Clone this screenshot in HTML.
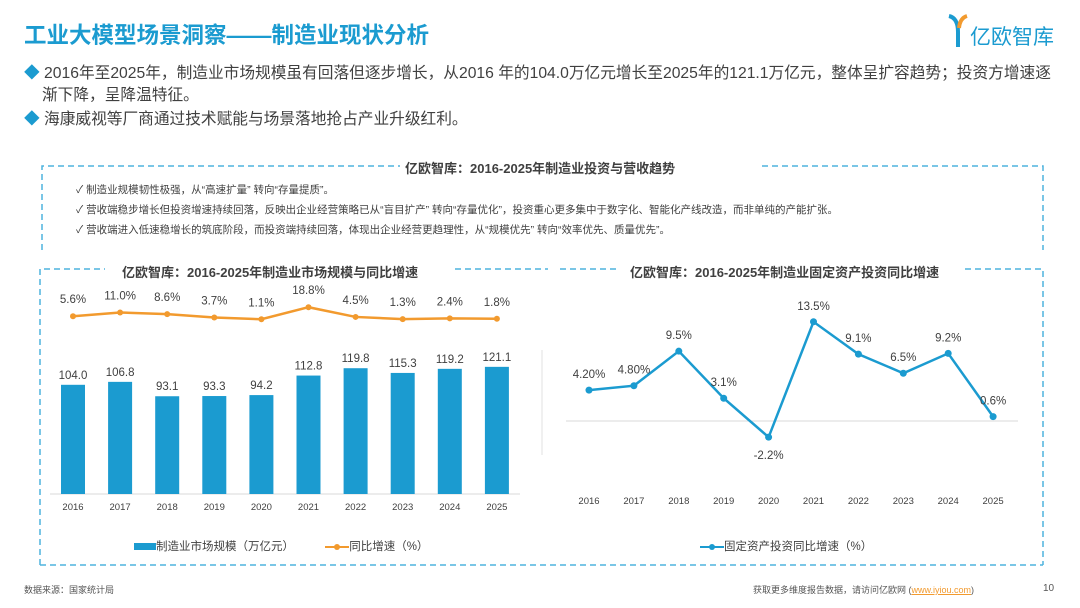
<!DOCTYPE html>
<html><head><meta charset="utf-8"><style>
body{margin:0;width:1080px;height:608px;background:#fff;font-family:"Liberation Sans","Noto Sans CJK SC",sans-serif;position:relative;overflow:hidden;color:#404040}
.abs{position:absolute}
.t{white-space:nowrap}
</style></head><body>
<div class="abs t" style="left:24px;top:18px;font-size:22.5px;font-weight:bold;color:#1b9bd0">工业大模型场景洞察——制造业现状分析</div>
<div class="abs" style="left:946px;top:14px;width:115px;height:36px">
<svg width="24" height="34" style="position:absolute;left:0;top:0"><path d="M3 2 Q12 4 12 18 L12 33" stroke="#1b9bd0" stroke-width="4" fill="none"/><path d="M21 2 Q14 4 13 14" stroke="#f29a2e" stroke-width="4" fill="none"/></svg>
<span class="abs t" style="left:24px;top:7px;font-size:21px;color:#1b9bd0">亿欧智库</span></div>
<div class="abs" style="left:24px;top:63px;width:1050px;font-size:15.7px;line-height:22px;color:#404040"><span style="color:#1b9bd0">◆</span> 2016年至2025年，制造业市场规模虽有回落但逐步增长，从2016 年的104.0万亿元增长至2025年的121.1万亿元，整体呈扩容趋势；投资方增速逐<br><span style="padding-left:18px">渐下降，呈降温特征。</span></div>
<div class="abs t" style="left:24px;top:109px;font-size:15.7px;line-height:22px"><span style="color:#1b9bd0">◆</span> 海康威视等厂商通过技术赋能与场景落地抢占产业升级红利。</div>

<svg class="abs" style="left:0;top:0" width="1080" height="608">
<g stroke="#4fb3dd" stroke-width="1.5" stroke-dasharray="6,4" fill="none">
<path d="M42 250 L42 166 L400 166"/><path d="M762 166 L1043 166 L1043 250"/>
<path d="M40 565 L40 269 L105 269"/><path d="M455 269 L548 269"/>
<path d="M560 269 L618 269"/><path d="M965 269 L1043 269 L1043 565"/>
<path d="M40 565 L1043 565"/>
</g>
<line x1="542" y1="350" x2="542" y2="455" stroke="#e0e0e0"/>
</svg>
<div class="abs t" style="left:405px;top:158px;font-size:13px;font-weight:bold;color:#404040">亿欧智库：2016-2025年制造业投资与营收趋势</div>
<div class="abs" style="left:76px;top:180px;font-size:10.5px;line-height:20px;color:#404040">
<div>✓ 制造业规模韧性极强，从“高速扩量” 转向“存量提质”。</div>
<div>✓ 营收端稳步增长但投资增速持续回落，反映出企业经营策略已从“盲目扩产” 转向“存量优化”，投资重心更多集中于数字化、智能化产线改造，而非单纯的产能扩张。</div>
<div>✓ 营收端进入低速稳增长的筑底阶段，而投资端持续回落，体现出企业经营更趋理性，从“规模优先” 转向“效率优先、质量优先”。</div></div>
<div class="abs t" style="left:122px;top:262px;font-size:13px;font-weight:bold">亿欧智库：2016-2025年制造业市场规模与同比增速</div>
<div class="abs t" style="left:630px;top:262px;font-size:13px;font-weight:bold">亿欧智库：2016-2025年制造业固定资产投资同比增速</div>

<svg id="c1" class="abs" style="left:0;top:0" width="1080" height="608"></svg>
<svg id="c2" class="abs" style="left:0;top:0" width="1080" height="608"></svg>

<div class="abs t" style="left:134px;top:538px;font-size:11.5px">
<span style="display:inline-block;width:22px;height:7px;background:#1b9bd0;vertical-align:middle"></span>制造业市场规模（万亿元）
<span style="display:inline-block;width:24px;height:2px;background:#f29a2e;vertical-align:middle;margin-left:28px;position:relative"><span style="position:absolute;left:9px;top:-2px;width:6px;height:6px;border-radius:3px;background:#f29a2e"></span></span>同比增速（%）</div>
<div class="abs t" style="left:700px;top:538px;font-size:11.5px">
<span style="display:inline-block;width:24px;height:2px;background:#1b9bd0;vertical-align:middle;position:relative"><span style="position:absolute;left:9px;top:-2px;width:6px;height:6px;border-radius:3px;background:#1b9bd0"></span></span>固定资产投资同比增速（%）</div>
<div class="abs t" style="left:24px;top:583px;font-size:9px;color:#555">数据来源：国家统计局</div>
<div class="abs t" style="left:753px;top:583px;font-size:9px;color:#555">获取更多维度报告数据，请访问亿欧网 (<span style="color:#f29a2e;text-decoration:underline">www.iyiou.com</span>)</div>
<div class="abs t" style="left:1043px;top:583px;font-size:10px;color:#555">10</div>

<script>
const years=["2016","2017","2018","2019","2020","2021","2022","2023","2024","2025"];
const marketSize=[104.0,106.8,93.1,93.3,94.2,112.8,119.8,115.3,119.2,121.1];
const growthRate=[5.6,11.0,8.6,3.7,1.1,18.8,4.5,1.3,2.4,1.8];
const investGrowth=[4.2,4.8,9.5,3.1,-2.2,13.5,9.1,6.5,9.2,0.6];
const investLabels=["4.20%","4.80%","9.5%","3.1%","-2.2%","13.5%","9.1%","6.5%","9.2%","0.6%"];
const NS="http://www.w3.org/2000/svg";
function mk(svg,tag,attrs,text){const e=document.createElementNS(NS,tag);for(const k in attrs)e.setAttribute(k,attrs[k]);if(text!=null)e.textContent=text;svg.appendChild(e);return e;}
const c1=document.getElementById('c1');
const x1=i=>73+i*47.1;
const yb=v=>494-v*1.05;
const yl=v=>320-v*0.68;
let e=mk(c1,'line',{x1:50,y1:494,x2:520,y2:494,stroke:'#d9d9d9'});

marketSize.forEach((v,i)=>{
 let b=mk(c1,'rect',{x:x1(i)-12,y:yb(v),width:24,height:494-yb(v),fill:'#1b9bd0'});
 
 let t=mk(c1,'text',{x:x1(i),y:yb(v)-6,'text-anchor':'middle','font-size':11.5,fill:'#404040'},v.toFixed(1));
 
 let a=mk(c1,'text',{x:x1(i),y:510,'text-anchor':'middle','font-size':9.5,fill:'#404040'},years[i]);
 
});
let p=mk(c1,'polyline',{points:growthRate.map((v,i)=>x1(i)+','+yl(v)).join(' '),fill:'none',stroke:'#f29a2e','stroke-width':2.5});

growthRate.forEach((v,i)=>{
 let c=mk(c1,'circle',{cx:x1(i),cy:yl(v),r:3,fill:'#f29a2e'});
 
 let t=mk(c1,'text',{x:x1(i),y:yl(v)-13,'text-anchor':'middle','font-size':11.5,fill:'#404040'},v.toFixed(1)+'%');
 
});
const c2=document.getElementById('c2');
const x2=i=>589+i*44.9;
const y2=v=>421-v*7.35;
e=mk(c2,'line',{x1:566,y1:y2(0),x2:1018,y2:y2(0),stroke:'#d9d9d9'});

p=mk(c2,'polyline',{points:investGrowth.map((v,i)=>x2(i)+','+y2(v)).join(' '),fill:'none',stroke:'#1b9bd0','stroke-width':2.5});

investGrowth.forEach((v,i)=>{
 let c=mk(c2,'circle',{cx:x2(i),cy:y2(v),r:3.5,fill:'#1b9bd0'});
 
 const below=v<0;
 let t=mk(c2,'text',{x:x2(i),y:below?y2(v)+22:y2(v)-12,'text-anchor':'middle','font-size':11.5,fill:'#404040'},investLabels[i]);
 
 let a=mk(c2,'text',{x:x2(i),y:504,'text-anchor':'middle','font-size':9.5,fill:'#404040'},years[i]);
 
});
</script>
</body></html>
